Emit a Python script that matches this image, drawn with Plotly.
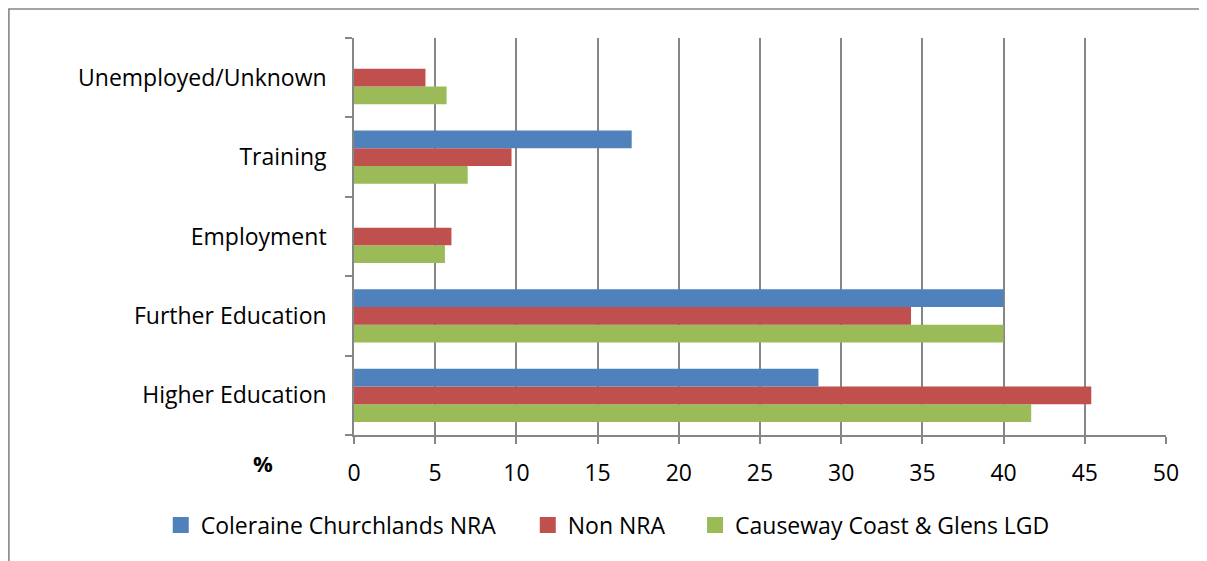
import plotly.graph_objects as go

categories = ["Higher Education", "Further Education", "Employment", "Training", "Unemployed/Unknown"]
coleraine = [28.6, 40.0, 0, 17.1, 0]
non_nra = [45.4, 34.3, 6.0, 9.7, 4.4]
causeway = [41.7, 40.0, 5.6, 7.0, 5.7]

series = [
    ("Causeway Coast & Glens LGD", causeway, "#9BBB59", "legend3", 0.420),
    ("Non NRA", non_nra, "#C0504D", "legend2", 0.214),
    ("Coleraine Churchlands NRA", coleraine, "#4F81BD", "legend", -0.238),
]

FONT = "Open Sans"
FS = 23
GRID = "#868686"
fig = go.Figure()
legends = {}
for name, vals, col, leg, lx in series:
    fig.add_trace(go.Bar(
        y=categories, x=vals, name=name, orientation="h",
        marker=dict(color=col, line=dict(width=0)), showlegend=False,
    ))
    fig.add_trace(go.Scatter(
        x=[None], y=[None], mode="markers", name=name, legend=leg,
        marker=dict(symbol="square", size=16, color=col), showlegend=True,
    ))
    legends[leg] = dict(orientation="h", x=lx, xanchor="left", y=-0.227, yanchor="middle",
                        font=dict(size=FS, family=FONT), itemwidth=30,
                        bgcolor="rgba(0,0,0,0)", borderwidth=0)

fig.update_layout(
    width=1199, height=553,
    margin=dict(l=346, r=41, t=30, b=126),
    paper_bgcolor="white", plot_bgcolor="white",
    barmode="group", bargap=0.33, bargroupgap=0,
    font=dict(family=FONT, size=FS, color="#000000"),
    showlegend=True,
    xaxis=dict(range=[0, 50], dtick=5, tick0=0, showgrid=True, gridcolor=GRID,
               gridwidth=1.6, showline=True, linecolor=GRID, linewidth=1.6,
               ticks="outside", ticklen=7, tickcolor=GRID, tickwidth=1.6,
               ticklabelstandoff=10, zeroline=False, fixedrange=True,
               tickfont=dict(size=FS, family=FONT)),
    yaxis=dict(type="category", categoryorder="array", categoryarray=categories,
               showgrid=False, showline=True, linecolor=GRID, linewidth=1.6,
               ticks="outside", tickson="boundaries", ticklen=7, tickcolor=GRID,
               tickwidth=1.6, ticklabelstandoff=21, fixedrange=True,
               tickfont=dict(size=FS, family=FONT)),
    annotations=[dict(text="<b>%</b>", xref="paper", yref="paper", x=-0.112, y=-0.07,
                      xanchor="center", yanchor="middle", showarrow=False,
                      font=dict(size=22, family=FONT))],
    shapes=[dict(type="rect", xref="paper", yref="paper", x0=-0.425, x1=1.06, y0=-0.4, y1=1.073,
                 line=dict(color=GRID, width=1.6), fillcolor="rgba(0,0,0,0)", layer="below")],
    **legends,
)

fig.write_html("out.html")
